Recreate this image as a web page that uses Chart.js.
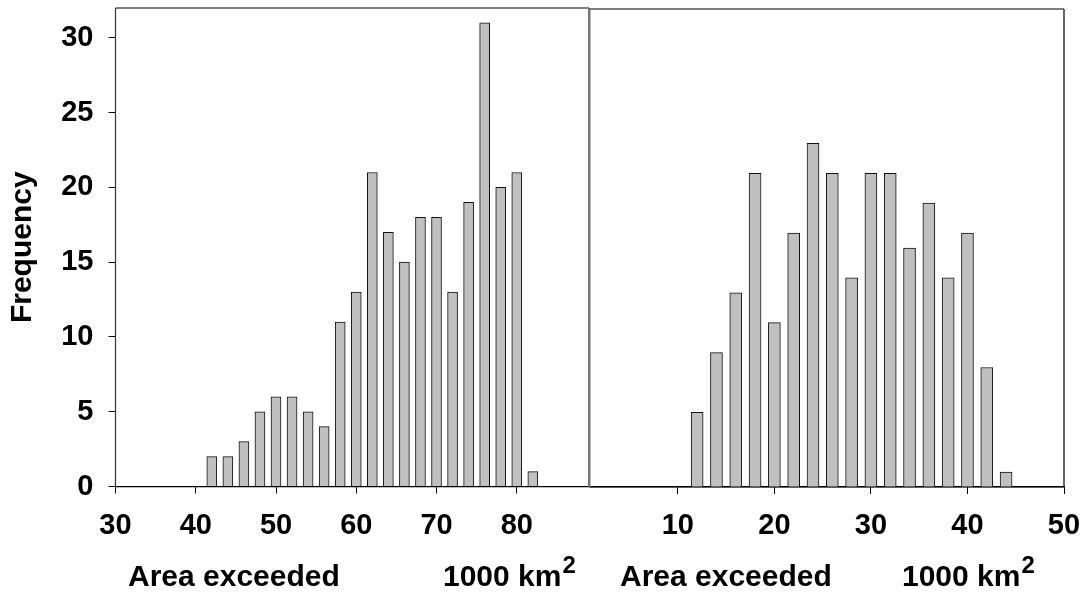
<!DOCTYPE html>
<html>
<head>
<meta charset="utf-8">
<script src="https://cdn.jsdelivr.net/npm/chart.js@4/dist/chart.umd.min.js"></script>
<style>
  html, body { margin: 0; padding: 0; background: #fff; }
  #wrap { position: relative; width: 1091px; height: 600px; }
  canvas { position: absolute; left: 0; top: 0; }
</style>
</head>
<body>
<div id="wrap">
  <canvas id="c1" width="1091" height="600"></canvas>
  <canvas id="c2" width="1091" height="600"></canvas>
</div>
<script>
// ---- data ----
const leftBins   = [42, 44, 46, 48, 50, 52, 54, 56, 58, 60, 62, 64, 66, 68, 70, 72, 74, 76, 78, 80, 82];
const leftFreq   = [ 2,  2,  3,  5,  6,  6,  5,  4, 11, 13, 21, 17, 15, 18, 18, 13, 19, 31, 20, 21,  1];
const rightBins  = [12, 14, 16, 18, 20, 22, 24, 26, 28, 30, 32, 34, 36, 38, 40, 42, 44];
const rightFreq  = [ 5,  9, 13, 21, 11, 17, 23, 21, 14, 21, 21, 16, 19, 14, 17,  8,  1];
const leftXTicks  = [30, 40, 50, 60, 70, 80];
const rightXTicks = [10, 20, 30, 40, 50];
const yTicks      = [0, 5, 10, 15, 20, 25, 30];
const yTitle    = "Frequency";
const xTitle    = "Area exceeded";
const unitTitle = "1000 km";
const unitSup   = "2";

const FONT = "'Liberation Sans', Arial, sans-serif";
const BAR_FILL = '#c0c0c0';

function pts(xs, ys) { return xs.map((x, i) => ({ x: x, y: ys[i] })); }

const framePlugin = {
  id: 'frame',
  afterDraw(chart, args, opts) {
    const { ctx, chartArea: a } = chart;
    ctx.save();
    ctx.lineWidth = 1.2;
    ctx.strokeStyle = '#000';
    ctx.beginPath();
    ctx.moveTo(a.left, a.top); ctx.lineTo(a.right, a.top);
    ctx.moveTo(a.left, a.bottom); ctx.lineTo(a.right, a.bottom);
    ctx.stroke();
    // left / right frame sides
    ctx.beginPath();
    ctx.strokeStyle = opts.leftColor; ctx.lineWidth = opts.leftWidth;
    ctx.moveTo(a.left, a.top); ctx.lineTo(a.left, a.bottom);
    ctx.stroke();
    ctx.beginPath();
    ctx.strokeStyle = opts.rightColor; ctx.lineWidth = opts.rightWidth;
    ctx.moveTo(a.right, a.top); ctx.lineTo(a.right, a.bottom);
    ctx.stroke();
    // x-axis titles
    ctx.fillStyle = '#000';
    ctx.textBaseline = 'alphabetic';
    ctx.textAlign = 'left';
    ctx.font = "bold 30px " + FONT;
    ctx.fillText(xTitle, opts.titleX, 586);
    ctx.fillText(unitTitle, opts.unitX, 586);
    const w = ctx.measureText(unitTitle).width;
    ctx.font = "bold 24px " + FONT;
    ctx.fillText(unitSup, opts.unitX + w + 1, 573);
    ctx.restore();
  }
};

function noPad(s) { s.paddingTop = 0; s.paddingBottom = 0; s.paddingLeft = 0; s.paddingRight = 0; }

function xScale(min, max, ticksArr, h) {
  return {
    type: 'linear',
    min: min, max: max,
    offset: false,
    afterBuildTicks: s => { s.ticks = ticksArr.map(v => ({ value: v })); },
    afterFit: s => { s.height = h; noPad(s); },
    grid: { display: true, offset: false, drawOnChartArea: false, drawTicks: true, tickLength: 7, color: '#000', lineWidth: 1 },
    border: { display: true, color: '#000', width: 1.2 },
    ticks: { color: '#000', padding: 15, font: { family: FONT, size: 29, weight: 'bold' }, maxRotation: 0, autoSkip: false }
  };
}

// ---- left panel ----
new Chart(document.getElementById('c1'), {
  type: 'bar',
  data: {
    datasets: [{
      data: pts(leftBins, leftFreq),
      backgroundColor: BAR_FILL,
      borderColor: '#111',
      borderWidth: 1,
      barThickness: 10
    }]
  },
  options: {
    responsive: false,
    animation: false,
    events: [],
    layout: { padding: { left: 0, top: 8, right: 502, bottom: 0 } },
    plugins: { legend: { display: false }, tooltip: { enabled: false },
               frame: { titleX: 128, unitX: 443, leftColor: '#333', leftWidth: 1.2, rightColor: '#777', rightWidth: 2 } },
    scales: {
      x: xScale(30, 89, leftXTicks, 113.5),
      y: {
        type: 'linear', min: 0, max: 32,
        afterBuildTicks: s => { s.ticks = yTicks.map(v => ({ value: v })); },
        afterFit: s => { s.width = 115.5; noPad(s); },
        grid: { display: true, drawOnChartArea: false, drawTicks: true, tickLength: 7, color: '#000', lineWidth: 1 },
        border: { display: false },
        ticks: { color: '#000', padding: 15, font: { family: FONT, size: 29, weight: 'bold' } },
        title: { display: true, text: yTitle, color: '#000', padding: { top: 5, bottom: 0 },
                 font: { family: FONT, size: 30, weight: 'bold' } }
      }
    }
  },
  plugins: [framePlugin]
});

// ---- right panel ----
new Chart(document.getElementById('c2'), {
  type: 'bar',
  data: {
    datasets: [{
      data: pts(rightBins, rightFreq),
      backgroundColor: BAR_FILL,
      borderColor: '#111',
      borderWidth: 1,
      barThickness: 12
    }]
  },
  options: {
    responsive: false,
    animation: false,
    events: [],
    layout: { padding: { left: 589.5, top: 9, right: 27, bottom: 0 } },
    plugins: { legend: { display: false }, tooltip: { enabled: false },
               frame: { titleX: 620, unitX: 902, leftColor: '#777', leftWidth: 2, rightColor: '#000', rightWidth: 1.2 } },
    scales: {
      x: xScale(0.85, 50, rightXTicks, 113),
      y: { type: 'linear', min: 0, max: 32, display: false }
    }
  },
  plugins: [framePlugin]
});
</script>
</body>
</html>
